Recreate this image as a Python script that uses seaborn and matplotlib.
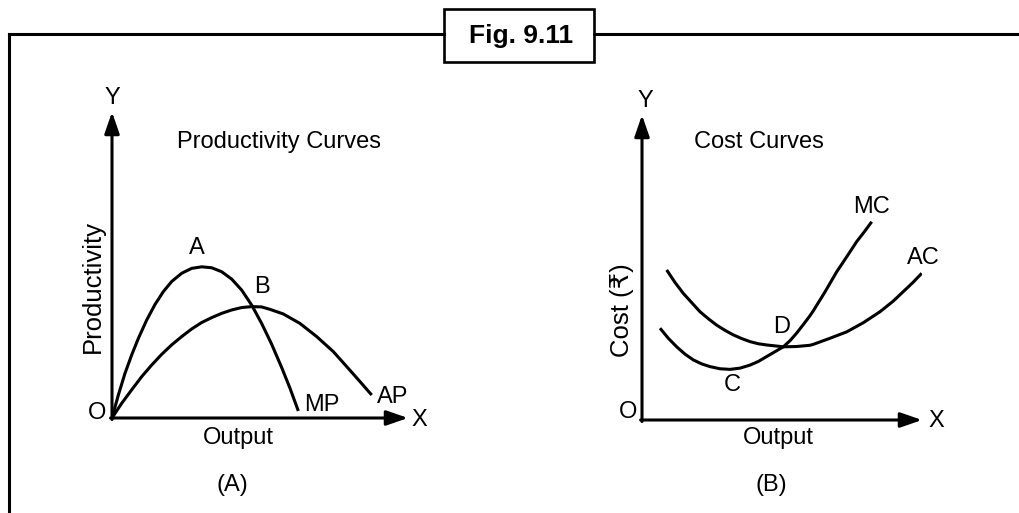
import numpy as np
import pandas as pd
import matplotlib.pyplot as plt
import seaborn as sns
from matplotlib.patches import Rectangle

# =========================
# DATA
# =========================

# panel A : productivity curves (output 0-10, productivity 0-10)
mp_x = [0, 0.214, 0.439, 0.664, 0.890, 1.171, 1.453, 1.734, 2.016, 2.354, 2.692,
        3.029, 3.367, 3.705, 4.043, 4.381, 4.719, 5.056, 5.394, 5.732, 6.014, 6.295]
mp_y = [0, 0.75, 1.46, 2.06, 2.60, 3.20, 3.71, 4.13, 4.46, 4.73, 4.89,
        4.94, 4.91, 4.78, 4.54, 4.18, 3.69, 3.09, 2.41, 1.65, 0.97, 0.23]

ap_x = [0, 0.327, 0.664, 1.002, 1.340, 1.678, 2.016, 2.354, 2.692, 3.029, 3.367,
        3.705, 4.043, 4.381, 4.719, 5.056, 5.338, 5.787, 6.351, 6.916, 7.476,
        7.929, 8.378, 8.774]
ap_y = [0, 0.48, 0.92, 1.35, 1.73, 2.08, 2.39, 2.66, 2.91, 3.12, 3.28,
        3.42, 3.53, 3.61, 3.64, 3.63, 3.55, 3.40, 3.09, 2.66, 2.17,
        1.68, 1.19, 0.75]

# panel B : cost curves (output 0-10, cost 0-10)
ac_x = [0.881, 1.179, 1.476, 1.774, 2.071, 2.369, 2.667, 2.964, 3.262, 3.560,
        3.857, 4.155, 4.452, 4.750, 5.048, 5.524, 6.0, 6.118, 6.714, 7.311,
        7.904, 8.5, 8.975, 9.332, 9.689, 9.989]
ac_y = [4.92, 4.51, 4.15, 3.85, 3.55, 3.32, 3.11, 2.94, 2.79, 2.67,
        2.57, 2.50, 2.46, 2.43, 2.40, 2.41, 2.45, 2.48, 2.68, 2.89,
        3.19, 3.55, 3.90, 4.21, 4.52, 4.81]

mc_x = [0.643, 0.940, 1.238, 1.536, 1.833, 2.131, 2.429, 2.786, 3.143, 3.5,
        3.857, 4.155, 4.452, 4.75, 5.048, 5.286, 5.524, 5.762, 6.0, 6.118,
        6.536, 6.954, 7.311, 7.668, 7.964, 8.204]
mc_y = [3.01, 2.68, 2.40, 2.16, 1.97, 1.84, 1.75, 1.68, 1.66, 1.70,
        1.80, 1.92, 2.08, 2.24, 2.40, 2.60, 2.85, 3.13, 3.42, 3.58,
        4.20, 4.86, 5.35, 5.85, 6.20, 6.50]

fig_title = "Fig. 9.11"

# =========================
# STYLE
# =========================

sns.set_theme(style="white")
plt.rcParams["font.family"] = ["Liberation Sans", "DejaVu Sans"]
plt.rcParams["text.color"] = "black"

W, H = 1019, 513
fig = plt.figure(figsize=(W / 100, H / 100), dpi=100)
fig.patch.set_facecolor("white")

LW = 2.2
FS = 17

# =========================
# FRAME + TITLE BOX
# =========================

bg = fig.add_axes([0, 0, 1, 1])
bg.set_xlim(0, W)
bg.set_ylim(H, 0)
bg.axis("off")

bg.plot([9, 444], [34, 34], color="black", lw=2.2, solid_capstyle="projecting")
bg.plot([594, W], [34, 34], color="black", lw=2.2)
bg.plot([9, 9], [34, H], color="black", lw=2.2, solid_capstyle="projecting")
bg.add_patch(Rectangle((444, 8.5), 150, 53, fill=False, lw=1.9, edgecolor="black"))
bg.text(521, 36, fig_title, ha="center", va="center",
        fontsize=19, fontweight="bold", color="black")


def panel(left_px, bottom_px, w_px, h_px):
    ax = fig.add_axes([left_px / W, (H - bottom_px) / H, w_px / W, h_px / H])
    ax.set_xlim(0, 10)
    ax.set_ylim(0, 10)
    ax.axis("off")
    ax.patch.set_alpha(0)
    arrow = dict(arrowstyle="-|>,head_length=1.3,head_width=0.45",
                 mutation_scale=10, lw=LW, color="black",
                 shrinkA=0, shrinkB=0)
    ax.annotate("", xy=(10, 0), xytext=(-0.05, 0), arrowprops=arrow,
                annotation_clip=False)
    ax.annotate("", xy=(0, 10), xytext=(0, -0.05), arrowprops=arrow,
                annotation_clip=False)
    return ax


def label(ax, x, y, s, size=FS, **kw):
    ax.text(x, y, s, ha="center", va="center", fontsize=size,
            color="black", clip_on=False, **kw)


def curve(ax, xs, ys):
    sns.lineplot(x=xs, y=ys, ax=ax, color="black", lw=LW,
                 sort=False, estimator=None,
                 solid_joinstyle="round", solid_capstyle="butt")


# =========================
# PANEL A
# =========================

ax_a = panel(112, 418, 296, 306)

curve(ax_a, mp_x, mp_y)
curve(ax_a, ap_x, ap_y)

label(ax_a, 0.0, 10.45, "Y")
label(ax_a, -0.5, 0.17, "O")
label(ax_a, 10.4, -0.05, "X")
label(ax_a, 5.64, 9.02, "Productivity Curves")
label(ax_a, -0.66, 4.31, "Productivity", size=18.5, rotation=90)
label(ax_a, 2.87, 5.56, "A")
label(ax_a, 5.06, 4.29, "B")
label(ax_a, 7.09, 0.42, "MP")
label(ax_a, 9.49, 0.69, "AP")
label(ax_a, 4.26, -0.65, "Output")
label(ax_a, 4.05, -2.19, "(A)")

# =========================
# PANEL B
# =========================

ax_b = panel(642, 420, 280, 305)

curve(ax_b, ac_x, ac_y)
curve(ax_b, mc_x, mc_y)

label(ax_b, 0.11, 10.45, "Y")
label(ax_b, -0.5, 0.26, "O")
label(ax_b, 10.5, -0.02, "X")
label(ax_b, 4.18, 9.11, "Cost Curves")
label(ax_b, -0.7, 3.61, "Cost (₹)", size=18.5, rotation=90)
label(ax_b, 8.21, 6.98, "MC")
label(ax_b, 10.04, 5.31, "AC")
label(ax_b, 5.0, 3.05, "D")
label(ax_b, 3.21, 1.15, "C")
label(ax_b, 4.86, -0.59, "Output")
label(ax_b, 4.61, -2.13, "(B)")

plt.savefig("out.png", dpi=100, facecolor="white")
